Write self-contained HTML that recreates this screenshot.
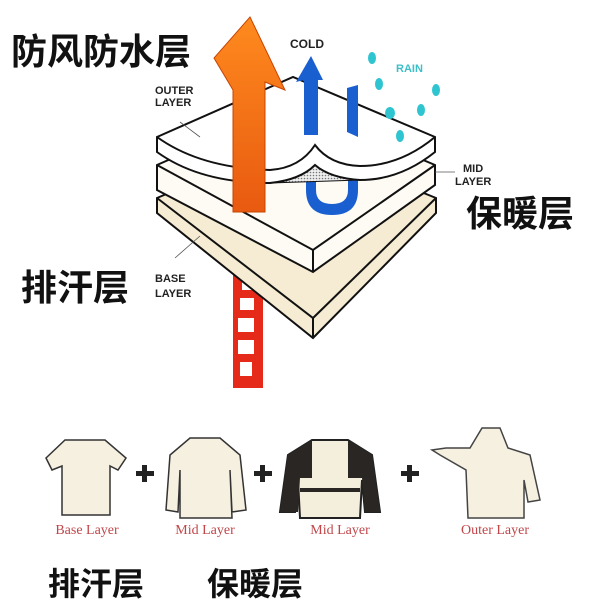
<!DOCTYPE html>
<html><head><meta charset="utf-8"><style>
body{margin:0;background:#fff;width:600px;height:601px;overflow:hidden}
svg{display:block}
.cn{font-family:"Liberation Sans","Noto Sans CJK SC",sans-serif;font-weight:bold;fill:#111}
.lb{font-family:"Liberation Sans",sans-serif;font-weight:bold;font-size:11px;fill:#222}
.rd{font-family:"Liberation Serif",serif;font-size:14px;fill:#c0464a}
</style></head><body>
<svg width="600" height="601" viewBox="0 0 600 601">
<defs>
<linearGradient id="og" x1="0" y1="1" x2="0" y2="0"><stop offset="0" stop-color="#e85a10"/><stop offset="1" stop-color="#ff8a1e"/></linearGradient>
<pattern id="dt" width="3" height="3" patternUnits="userSpaceOnUse"><rect width="3" height="3" fill="#eee"/><circle cx="1.5" cy="1.5" r="0.8" fill="#777"/></pattern>
</defs>
<rect x="231" y="228" width="31" height="26" fill="#e02a1c"/>
<rect x="233" y="262" width="30" height="126" fill="#e52a1a"/>
<g fill="#fff"><rect x="242" y="280" width="12" height="10"/><rect x="240" y="298" width="14" height="12"/><rect x="238" y="318" width="16" height="14"/><rect x="238" y="340" width="16" height="14"/><rect x="240" y="362" width="12" height="14"/></g>
<polygon points="157,198 293,140 436,198 436,213 313,338 157,213" fill="#f6ecd4" stroke="#111" stroke-width="2"/>
<polyline points="157,198 313,318 436,198" fill="none" stroke="#111" stroke-width="2"/>
<line x1="313" y1="318" x2="313" y2="338" stroke="#111" stroke-width="2"/>
<polygon points="157,165 293,105 435,165 435,185 313,272 157,190" fill="#fdfbf4" stroke="#111" stroke-width="2"/>
<polyline points="157,165 313,250 435,165" fill="none" stroke="#111" stroke-width="2"/>
<line x1="313" y1="250" x2="313" y2="272" stroke="#111" stroke-width="2"/>
<path d="M306,170 L306,190 Q306,215 332,215 Q358,215 358,190 L358,175 L348,175 L348,190 Q348,204 332,204 Q316,204 316,190 L316,170 Z" fill="#1a5fd0"/>
<polygon points="270,183 315,165 360,180" fill="url(#dt)" stroke="#111" stroke-width="1"/>
<path d="M157,137 L293,77 L435,137 L435,152 Q400,180 360,180 Q330,178 315,165 Q300,180 270,183 Q200,183 157,152 Z" fill="#fff" stroke="#111" stroke-width="2"/>
<path d="M157,137 Q200,168 270,170 Q300,168 315,145 Q330,165 360,166 Q400,166 435,137" fill="none" stroke="#111" stroke-width="2"/>
<polygon points="233,212 233,90 214,58 250,17 285,90 265,82 265,212" fill="url(#og)" stroke="#c84400" stroke-width="1"/>
<polygon points="304,135 304,80 296,82 311,56 323,80 318,80 318,135" fill="#1a5fd0"/>
<polygon points="347,88 358,85 358,137 347,132" fill="#1a5fd0"/>
<g fill="#2ec4d0">
<ellipse cx="372" cy="58" rx="4" ry="6"/><ellipse cx="379" cy="84" rx="4" ry="6"/><ellipse cx="436" cy="90" rx="4" ry="6"/><ellipse cx="390" cy="113" rx="5" ry="6"/><ellipse cx="421" cy="110" rx="4" ry="6"/><ellipse cx="400" cy="136" rx="4" ry="6"/>
</g>
<text x="290" y="48" class="lb" style="font-size:12px">COLD</text>
<text x="396" y="72" class="lb" style="fill:#3cbfc8;font-size:11px">RAIN</text>
<text x="155" y="94" class="lb">OUTER</text><text x="155" y="106" class="lb">LAYER</text>
<line x1="180" y1="122" x2="200" y2="137" stroke="#555" stroke-width="0.8"/>
<text x="155" y="282" class="lb">BASE</text><text x="155" y="297" class="lb">LAYER</text>
<line x1="175" y1="258" x2="200" y2="236" stroke="#555" stroke-width="0.8"/>
<text x="463" y="172" class="lb">MID</text><text x="455" y="185" class="lb">LAYER</text>
<line x1="435" y1="172" x2="455" y2="172" stroke="#555" stroke-width="0.8"/>
<text x="11" y="64" class="cn" font-size="36">防风防水层</text>
<text x="466" y="226" class="cn" font-size="36">保暖层</text>
<text x="21" y="300" class="cn" font-size="36">排汗层</text>
<text x="48" y="595" class="cn" font-size="32">排汗层</text>
<text x="207" y="595" class="cn" font-size="32">保暖层</text>
<path d="M65,440 L105,440 L126,458 L118,470 L110,466 L110,515 L62,515 L62,466 L52,470 L46,458 Z" fill="#f6f0e0" stroke="#333" stroke-width="1.5"/>
<path d="M190,438 L220,438 L240,455 L246,510 L232,512 L230,470 L232,518 L180,518 L180,470 L178,512 L166,510 L170,455 Z" fill="#f6f0e0" stroke="#333" stroke-width="1.5"/>
<path d="M312,440 L348,440 L372,455 L380,512 L365,512 L362,480 L360,518 L300,518 L298,480 L295,512 L280,512 L288,455 Z" fill="#f4eedd" stroke="#222" stroke-width="2"/>
<path d="M288,455 L312,440 L312,478 L300,478 L298,512 L280,512 Z M372,455 L348,440 L348,478 L362,478 L365,512 L380,512 Z" fill="#2a2624"/>
<rect x="300" y="488" width="60" height="4" fill="#2a2624"/>
<path d="M482,428 L500,428 L508,448 L530,455 L540,500 L528,502 L524,480 L524,518 L468,518 L466,470 L440,455 L432,450 L446,448 L470,448 Z" fill="#f6f0e0" stroke="#444" stroke-width="1.5"/>
<g fill="#222"><rect x="136" y="471" width="18" height="5"/><rect x="142" y="465" width="5" height="17"/>
<rect x="254" y="471" width="18" height="5"/><rect x="260" y="465" width="5" height="17"/>
<rect x="401" y="471" width="18" height="5"/><rect x="407" y="465" width="5" height="17"/></g>
<text x="87" y="534" class="rd" text-anchor="middle">Base Layer</text>
<text x="205" y="534" class="rd" text-anchor="middle">Mid Layer</text>
<text x="340" y="534" class="rd" text-anchor="middle">Mid Layer</text>
<text x="495" y="534" class="rd" text-anchor="middle">Outer Layer</text>
</svg>
</body></html>
